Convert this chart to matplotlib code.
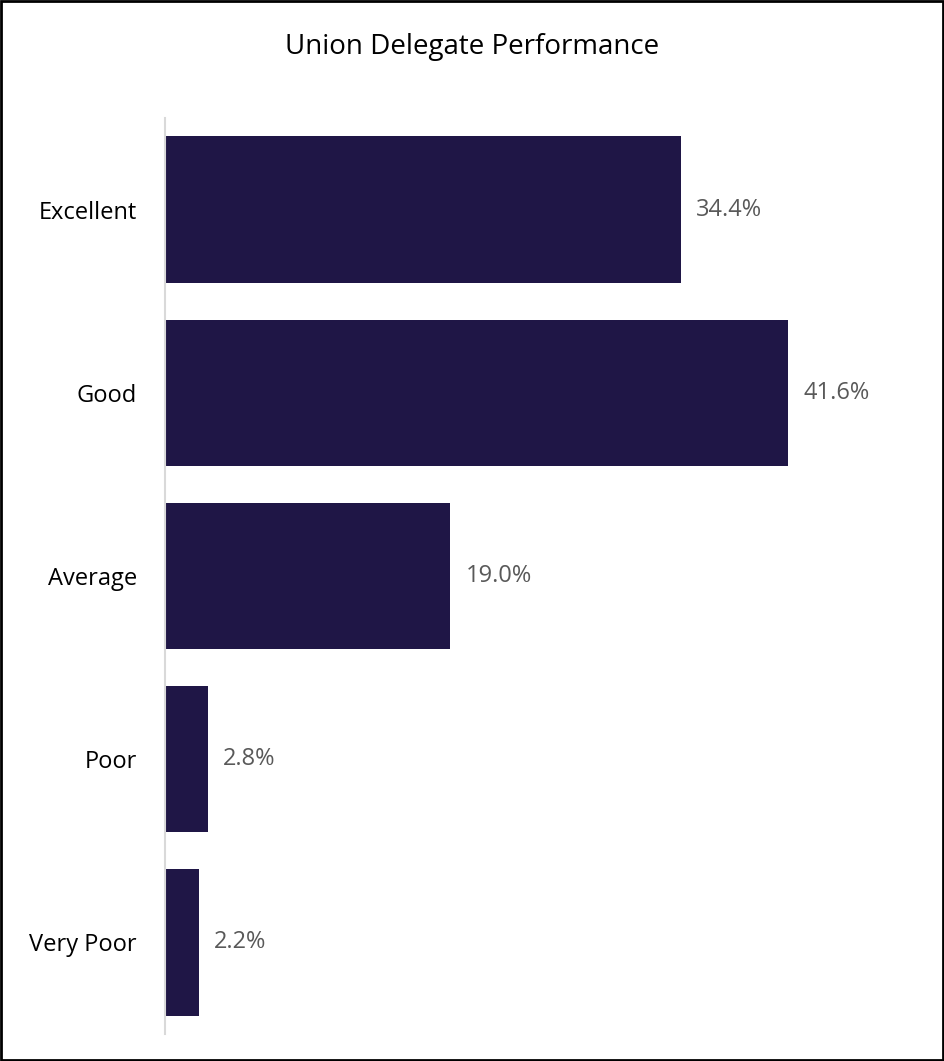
import matplotlib.pyplot as plt

categories = ['Excellent', 'Good', 'Average', 'Poor', 'Very Poor']
values = [34.4, 41.6, 19.0, 2.8, 2.2]
value_labels = ['34.4%', '41.6%', '19.0%', '2.8%', '2.2%']

W, H = 944, 1061
plt.rcParams['font.family'] = ['Open Sans', 'DejaVu Sans']
fig = plt.figure(figsize=(W / 100, H / 100), dpi=100)

# plot area in pixels
left, right, top, bottom = 166, 914, 118, 1034
ax = fig.add_axes([left / W, 1 - bottom / H, (right - left) / W, (bottom - top) / H])

ypos = list(range(len(categories)))
ax.barh(ypos, values, height=0.8, color='#1F1646')
ax.set_xlim(0, 50)
ax.set_ylim(len(categories) - 0.5, -0.5)

for y, v, lab in zip(ypos, values, value_labels):
    ax.annotate(lab, (v, y), xytext=(11, 0), textcoords='offset points',
                va='center', ha='left', fontsize=17, color='#595959')

ax.set_yticks(ypos)
ax.set_yticklabels(categories)
ax.tick_params(axis='y', length=0, pad=20, labelsize=17, labelcolor='#000000')
ax.set_xticks([])
for s in ['top', 'right', 'bottom']:
    ax.spines[s].set_visible(False)
ax.spines['left'].set_color('#D9D9D9')
ax.spines['left'].set_linewidth(1.5)
ax.spines['left'].set_position(('outward', 1))

fig.text(0.5, 1 - 47 / H, 'Union Delegate Performance', ha='center', va='center',
         fontsize=20, color='#000000')

# outer border
border = plt.Rectangle((0.001, 0.001), 0.998, 0.998, transform=fig.transFigure,
                       fill=False, edgecolor='#000000', linewidth=2)
fig.patches.append(border)

fig.savefig('out.png', dpi=100)
